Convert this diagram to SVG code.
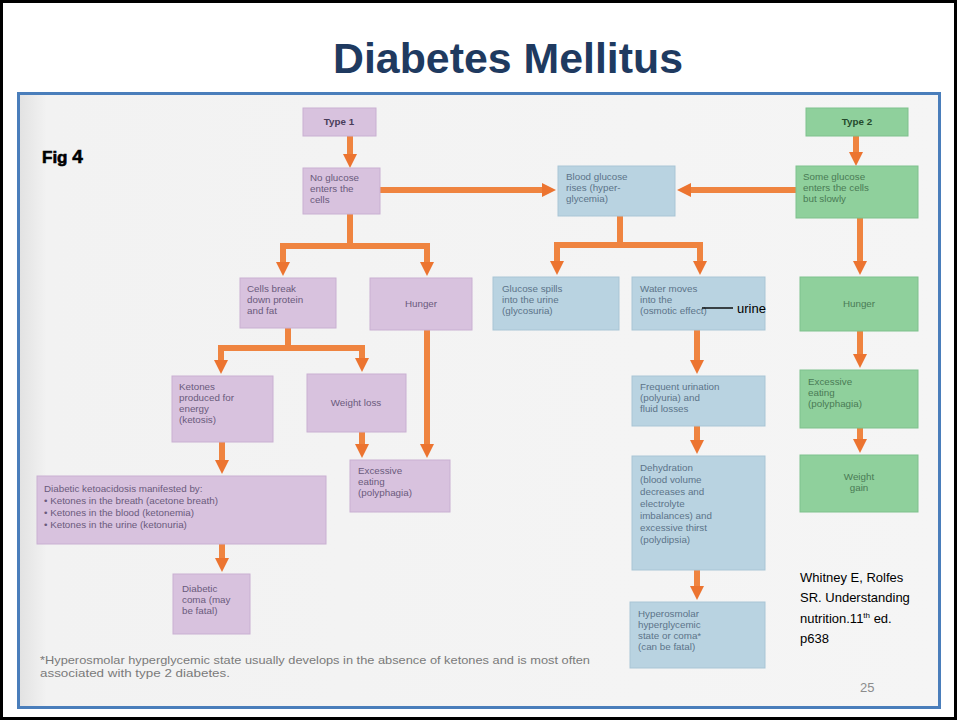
<svg xmlns="http://www.w3.org/2000/svg" width="957" height="720" viewBox="0 0 957 720">
  <defs>
    <marker id="ah" markerUnits="userSpaceOnUse" markerWidth="15" markerHeight="15" refX="3" refY="7" orient="auto-start-reverse">
      <path d="M0,0 L14,7 L0,14 z" fill="#ec7430"/>
    </marker>
    <linearGradient id="bg" x1="0" y1="0" x2="1" y2="0">
      <stop offset="0" stop-color="#e2e2e2"/>
      <stop offset="0.03" stop-color="#f2f2f2"/>
      <stop offset="1" stop-color="#f5f5f5"/>
    </linearGradient>
    <style>
      .t { font-family: "Liberation Sans", Arial, sans-serif; font-size: 9.8px; }
      .p rect { fill: #d8c2de; stroke: #c9b0d2; stroke-width: 1; }
      .b rect { fill: #b9d3e1; stroke: #a9c5d5; stroke-width: 1; }
      .g rect { fill: #8fd09c; stroke: #7fc18d; stroke-width: 1; }
      .p text { fill: #6a5a7c; }
      .b text { fill: #5c7489; }
      .g text { fill: #4a7b55; }
      .c path { fill: none; stroke: #ef8440; stroke-width: 6; }
      .c .a { marker-end: url(#ah); }
      .c .aa { marker-start: url(#ah); marker-end: url(#ah); }
    </style>
  </defs>

  <rect x="0" y="0" width="957" height="720" fill="#ffffff"/>
  <rect x="1.5" y="1.5" width="954" height="717" fill="none" stroke="#000" stroke-width="3"/>

  <text x="508" y="73" text-anchor="middle" font-family="Liberation Sans, Arial, sans-serif" font-weight="bold" font-size="43" fill="#1f3a60" textLength="350" lengthAdjust="spacingAndGlyphs">Diabetes Mellitus</text>

  <rect x="19" y="94" width="919" height="612" fill="url(#bg)"/>
  <rect x="18.5" y="93.5" width="921" height="614" fill="none" stroke="#4a7ebb" stroke-width="3"/>

  <text x="42" y="163" font-family="Liberation Sans, Arial, sans-serif" font-weight="900" font-size="17" fill="#000" stroke="#000" stroke-width="0.6">Fig <tspan font-size="19">4</tspan></text>

  <g class="c" id="connectors">
    <path class="a" d="M350,136 V157"/>
    <path class="a" d="M380,190 H545"/>
    <path class="a" d="M796,190 H688"/>
    <path class="a" d="M856,136 V155"/>
    <path d="M350,214 V246"/>
    <path class="aa" d="M283,265 V246 H427 V265"/>
    <path d="M620,216 V245"/>
    <path class="aa" d="M557,264 V245 H700 V264"/>
    <path d="M288,328 V348"/>
    <path class="aa" d="M221,363 V348 H362 V361"/>
    <path class="a" d="M427,330 V447"/>
    <path class="a" d="M362,432 V447"/>
    <path class="a" d="M222,442 V463"/>
    <path class="a" d="M222,544 V561"/>
    <path class="a" d="M697,330 V363"/>
    <path class="a" d="M697,426 V443"/>
    <path class="a" d="M697,570 V589"/>
    <path class="a" d="M860,218 V264"/>
    <path class="a" d="M860,331 V357"/>
    <path class="a" d="M860,428 V442"/>
  </g>

  <g id="type1" class="p t"><rect x="303" y="108" width="73" height="28"/><text x="339" y="125" text-anchor="middle" font-weight="bold" style="fill:#4a3d5a">Type 1</text></g>
  <g id="noGlucose" class="p t"><rect x="303" y="168" width="77" height="46"/><text x="310" y="181">No glucose</text><text x="310" y="192">enters the</text><text x="310" y="203">cells</text></g>
  <g id="bloodGlucose" class="b t"><rect x="558" y="166" width="117" height="50"/><text x="566" y="180">Blood glucose</text><text x="566" y="191">rises (hyper-</text><text x="566" y="202">glycemia)</text></g>
  <g id="type2" class="g t"><rect x="806" y="108" width="102" height="28"/><text x="857" y="125" text-anchor="middle" font-weight="bold" style="fill:#244a2c">Type 2</text></g>
  <g id="someGlucose" class="g t"><rect x="796" y="166" width="122" height="52"/><text x="803" y="180">Some glucose</text><text x="803" y="191">enters the cells</text><text x="803" y="202">but slowly</text></g>

  <g id="cellsBreak" class="p t"><rect x="240" y="278" width="96" height="50"/><text x="247" y="292">Cells break</text><text x="247" y="303">down protein</text><text x="247" y="314">and fat</text></g>
  <g id="hunger1" class="p t"><rect x="370" y="278" width="102" height="52"/><text x="421" y="307" text-anchor="middle">Hunger</text></g>
  <g id="glucoseSpills" class="b t"><rect x="493" y="277" width="126" height="53"/><text x="502" y="292">Glucose spills</text><text x="502" y="303">into the urine</text><text x="502" y="314">(glycosuria)</text></g>
  <g id="waterMoves" class="b t"><rect x="632" y="277" width="133" height="53"/><text x="640" y="292">Water moves</text><text x="640" y="303">into the</text><text x="640" y="314">(osmotic effect)</text></g>
  <g id="hunger2" class="g t"><rect x="800" y="277" width="118" height="54"/><text x="859" y="307" text-anchor="middle">Hunger</text></g>

  <g id="ketones" class="p t"><rect x="172" y="376" width="101" height="66"/><text x="179" y="390">Ketones</text><text x="179" y="401">produced for</text><text x="179" y="412">energy</text><text x="179" y="423">(ketosis)</text></g>
  <g id="weightLoss" class="p t"><rect x="307" y="374" width="99" height="58"/><text x="356" y="406" text-anchor="middle">Weight loss</text></g>
  <g id="excessive1" class="p t"><rect x="350" y="460" width="100" height="52"/><text x="358" y="474">Excessive</text><text x="358" y="485">eating</text><text x="358" y="496">(polyphagia)</text></g>
  <g id="ketoacidosis" class="p t"><rect x="37" y="476" width="289" height="68"/><text x="44" y="492">Diabetic ketoacidosis manifested by:</text><text x="44" y="504">• Ketones in the breath (acetone breath)</text><text x="44" y="516">• Ketones in the blood (ketonemia)</text><text x="44" y="528">• Ketones in the urine (ketonuria)</text></g>
  <g id="coma" class="p t"><rect x="173" y="574" width="77" height="60"/><text x="182" y="592">Diabetic</text><text x="182" y="603">coma (may</text><text x="182" y="614">be fatal)</text></g>

  <g id="frequent" class="b t"><rect x="632" y="376" width="133" height="50"/><text x="640" y="390">Frequent urination</text><text x="640" y="401">(polyuria) and</text><text x="640" y="412">fluid losses</text></g>
  <g id="dehydration" class="b t"><rect x="632" y="456" width="133" height="114"/><text x="640" y="471">Dehydration</text><text x="640" y="483">(blood volume</text><text x="640" y="495">decreases and</text><text x="640" y="507">electrolyte</text><text x="640" y="519">imbalances) and</text><text x="640" y="531">excessive thirst</text><text x="640" y="543">(polydipsia)</text></g>
  <g id="hyperosmolar" class="b t"><rect x="630" y="602" width="135" height="66"/><text x="638" y="617">Hyperosmolar</text><text x="638" y="628">hyperglycemic</text><text x="638" y="639">state or coma*</text><text x="638" y="650">(can be fatal)</text></g>

  <g id="excessive2" class="g t"><rect x="800" y="370" width="118" height="58"/><text x="808" y="385">Excessive</text><text x="808" y="396">eating</text><text x="808" y="407">(polyphagia)</text></g>
  <g id="weightGain" class="g t"><rect x="800" y="455" width="118" height="57"/><text x="859" y="480" text-anchor="middle">Weight</text><text x="859" y="491" text-anchor="middle">gain</text></g>

  <line x1="702" y1="308" x2="733" y2="308" stroke="#000" stroke-width="1.4"/>
  <text x="737" y="313" font-family="Liberation Sans, Arial, sans-serif" font-size="13" fill="#000">urine</text>

  <g font-family="Liberation Sans, Arial, sans-serif" font-size="10.5" fill="#7a7a7a">
    <text x="40" y="664" textLength="550" lengthAdjust="spacingAndGlyphs">*Hyperosmolar hyperglycemic state usually develops in the absence of ketones and is most often</text>
    <text x="40" y="677" textLength="190" lengthAdjust="spacingAndGlyphs">associated with type 2 diabetes.</text>
  </g>

  <g font-family="Liberation Sans, Arial, sans-serif" font-size="13" fill="#000">
    <text x="800" y="582">Whitney E, Rolfes</text>
    <text x="800" y="602">SR. Understanding</text>
    <text x="800" y="623">nutrition.11<tspan font-size="8" dy="-5">th</tspan><tspan dy="5"> ed.</tspan></text>
    <text x="800" y="643">p638</text>
  </g>
  <text x="860" y="692" font-family="Liberation Sans, Arial, sans-serif" font-size="13" fill="#8c8c8c">25</text>
</svg>
